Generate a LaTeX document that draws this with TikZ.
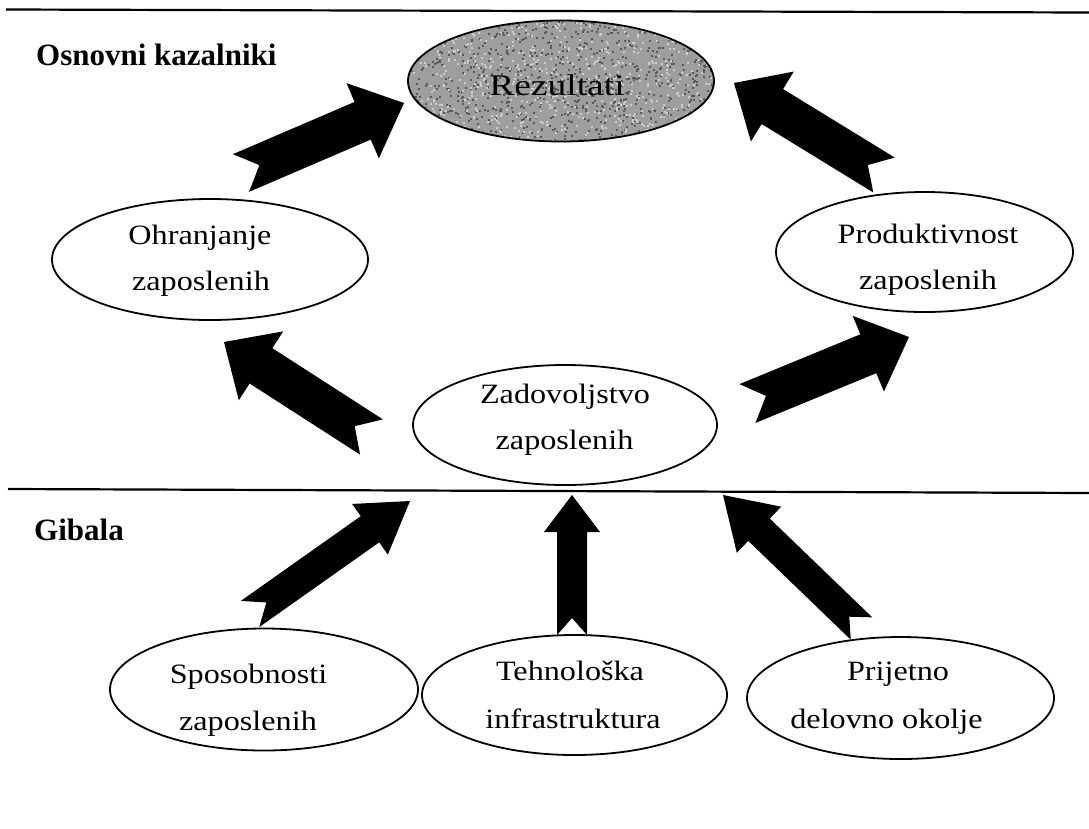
\documentclass[tikz,border=0pt]{standalone}
\usepackage{fontspec}
\setmainfont{Liberation Serif}[FakeStretch=1.15]
\newfontfamily\headfont{Liberation Serif}
\newfontfamily\rezfont{Liberation Serif}[FakeStretch=1.25]
\usetikzlibrary{calc,shapes.geometric}
\definecolor{rezgray}{RGB}{158,158,158}
\definecolor{rezdark}{RGB}{90,90,90}
\definecolor{rezlight}{RGB}{205,205,205}
\newcommand\fatarrow[6]{%
  \coordinate (fa-H) at ($(#2)!#5!(#1)$);
  \coordinate (fa-N) at ($(#1)!#6!(#2)$);
  \fill[black] ($(#1)!#3!90:(#2)$) -- ($(fa-H)!#3!-90:(#1)$) -- ($(fa-H)!#4!-90:(#1)$)
    -- (#2) -- ($(fa-H)!#4!90:(#1)$) -- ($(fa-H)!#3!90:(#1)$)
    -- ($(#1)!#3!-90:(#2)$) -- (fa-N) -- cycle;
}
\begin{document}
\begin{tikzpicture}[x=1pt,y=-1pt,
  oval/.style={ellipse, draw=black, line width=1.8pt, inner sep=0pt, minimum height=121pt},
  lbl/.style={anchor=base, inner sep=0pt, font=\fontsize{28}{32}\selectfont},
  headtxt/.style={anchor=base west, inner sep=0pt, font=\headfont\bfseries\fontsize{31}{31}\selectfont}]
\useasboundingbox[fill=white] (0,0) rectangle (1089,828);

% separator lines
\coordinate (topL) at (6,9.5);
\coordinate (topR) at (1089,12.5);
\coordinate (midL) at (8,489);
\coordinate (midR) at (1089,493);
\draw[line width=2.2pt] (topL) -- (topR);
\draw[line width=2.2pt] (midL) -- (midR);

% headings
\node[headtxt] (hosn) at (36,65) {Osnovni kazalniki};
\node[headtxt] (hgib) at (34,540) {Gibala};

% Rezultati (textured grey)
\fill[rezgray] (561,81) ellipse [x radius=153, y radius=60.5];
\begin{scope}
  \clip (561,81) ellipse [x radius=153, y radius=60.5];
  \pgfmathsetseed{7}
  \foreach \i in {1,...,900} {
    \fill[rezdark] ({561+153*rand},{81+61*rand}) rectangle +(2,2);
  }
  \foreach \i in {1,...,700} {
    \fill[rezlight] ({561+153*rand},{81+61*rand}) rectangle +(2,2);
  }
\end{scope}
\node[oval, minimum width=306pt] (rez) at (561,81) {};
\node[lbl, font=\rezfont\fontsize{30}{32}\selectfont] (rezT) at (557,95) {Rezultati};

% ellipses
\node[oval, minimum width=316pt] (ohr) at (210,259.5) {};
\node[lbl] (ohrA) at (200,244) {Ohranjanje};
\node[lbl] (ohrB) at (201,290) {zaposlenih};

\node[oval, minimum width=297pt, minimum height=120pt] (pro) at (924.5,252) {};
\node[lbl] (proA) at (928,243) {Produktivnost};
\node[lbl] (proB) at (928,289) {zaposlenih};

\node[oval, minimum width=304pt, minimum height=120pt] (zad) at (565,425) {};
\node[lbl] (zadA) at (565,403) {Zadovoljstvo};
\node[lbl] (zadB) at (564.5,449) {zaposlenih};

\node[oval, minimum width=308pt, minimum height=122pt] (spo) at (264,689.5) {};
\node[lbl] (spoA) at (248.5,683.5) {Sposobnosti};
\node[lbl] (spoB) at (248,730) {zaposlenih};

\node[oval, minimum width=305pt, minimum height=120pt] (teh) at (574.5,695) {};
\node[lbl] (tehA) at (570,680) {Tehnološka};
\node[lbl] (tehB) at (573,728) {infrastruktura};

\node[oval, minimum width=307pt, minimum height=122pt] (pri) at (900.5,698) {};
\node[lbl] (priA) at (898,680) {Prijetno};
\node[lbl] (priB) at (886.5,728) {delovno okolje};

% arrow end points
\coordinate (a1s) at (241,173);   \coordinate (a1e) at (404,103);
\coordinate (a2s) at (884,175);   \coordinate (a2e) at (734,83);
\coordinate (a3s) at (371.5,437); \coordinate (a3e) at (224,342);
\coordinate (a4s) at (747.5,403.5); \coordinate (a4e) at (909,337);
\coordinate (a5s) at (250,614);   \coordinate (a5e) at (410,501);
\coordinate (a6s) at (572,635);   \coordinate (a6e) at (572,495);
\coordinate (a7s) at (861.5,628.5); \coordinate (a7e) at (723,495);

\fatarrow{a1s}{a1e}{20.5pt}{41pt}{45pt}{20pt}
\fatarrow{a2s}{a2e}{20.5pt}{41pt}{45pt}{19pt}
\fatarrow{a3s}{a3e}{21pt}{41pt}{44pt}{20pt}
\fatarrow{a4s}{a4e}{21pt}{41pt}{44pt}{20pt}
\fatarrow{a5s}{a5e}{16pt}{31pt}{49pt}{20pt}
\fatarrow{a6s}{a6e}{15pt}{28pt}{37pt}{17pt}
\fatarrow{a7s}{a7e}{15.5pt}{32pt}{50pt}{17pt}
\end{tikzpicture}
\end{document}
